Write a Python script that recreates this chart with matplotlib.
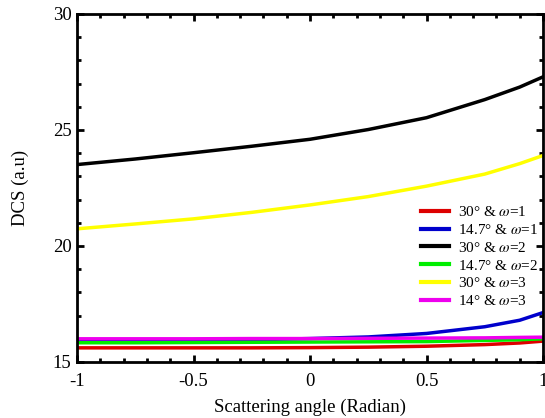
import matplotlib
matplotlib.use("Agg")
import matplotlib.pyplot as plt
from matplotlib.ticker import MultipleLocator

plt.rcParams['font.family'] = ['Liberation Serif', 'DejaVu Serif']
plt.rcParams['mathtext.fontset'] = 'stix'

# data
angle = [-1, -0.75, -0.5, -0.25, 0, 0.25, 0.5, 0.75, 0.9, 1]

red_30_w1 = [15.61, 15.61, 15.61, 15.61, 15.62, 15.64, 15.68, 15.75, 15.82, 15.90]
blue_147_w1 = [15.88, 15.90, 15.93, 15.96, 16.01, 16.08, 16.23, 16.52, 16.80, 17.13]
black_30_w2 = [23.51, 23.75, 24.02, 24.30, 24.60, 25.02, 25.53, 26.31, 26.85, 27.29]
green_147_w2 = [15.83, 15.83, 15.84, 15.85, 15.86, 15.87, 15.88, 15.93, 15.96, 16.00]
yellow_30_w3 = [20.74, 20.95, 21.17, 21.45, 21.77, 22.13, 22.58, 23.10, 23.55, 23.90]
magenta_14_w3 = [16.00, 16.00, 16.00, 16.01, 16.01, 16.02, 16.03, 16.04, 16.06, 16.07]

series = [
    (red_30_w1, '#DD0000', '30° & $\\omega$=1'),
    (blue_147_w1, '#0000CC', '14.7° & $\\omega$=1'),
    (black_30_w2, '#000000', '30° & $\\omega$=2'),
    (green_147_w2, '#00EE00', '14.7° & $\\omega$=2'),
    (yellow_30_w3, '#FFFF00', '30° & $\\omega$=3'),
    (magenta_14_w3, '#EE00EE', '14° & $\\omega$=3'),
]

fig = plt.figure(figsize=(5.45, 4.18), dpi=100)
ax = fig.add_axes([77/545, 1-362/418, 466/545, 348/418])

for vals, col, lab in series:
    ax.plot(angle, vals, color=col, lw=2.5, label=lab)

ax.set_xlim(-1, 1)
ax.set_ylim(15, 30)
ax.set_xticks([-1, -0.5, 0, 0.5, 1])
ax.set_xticklabels(['-1', '-0.5', '0', '0.5', '1'])
ax.set_yticks([15, 20, 25, 30])
ax.xaxis.set_minor_locator(MultipleLocator(0.1))
ax.yaxis.set_minor_locator(MultipleLocator(1))
ax.tick_params(which='both', direction='in', top=True, right=True, width=2)
ax.tick_params(which='major', length=5, labelsize=13.5)
ax.tick_params(axis='x', which='major', pad=8)
ax.tick_params(axis='y', which='major', pad=4)
ax.tick_params(which='minor', length=3)
for s in ax.spines.values():
    s.set_linewidth(2)

ax.set_xlabel('Scattering angle (Radian)', fontsize=13.5, labelpad=6)
ax.set_ylabel('DCS (a.u)', fontsize=13.5, labelpad=17)

leg = ax.legend(loc='upper left', bbox_to_anchor=(0.738, 0.451), frameon=False,
                fontsize=11, borderpad=0, borderaxespad=0, handlelength=1.85,
                handletextpad=0.6, labelspacing=0.25)
for h in leg.get_lines():
    h.set_linewidth(3)

fig.savefig('out.png', dpi=100)
